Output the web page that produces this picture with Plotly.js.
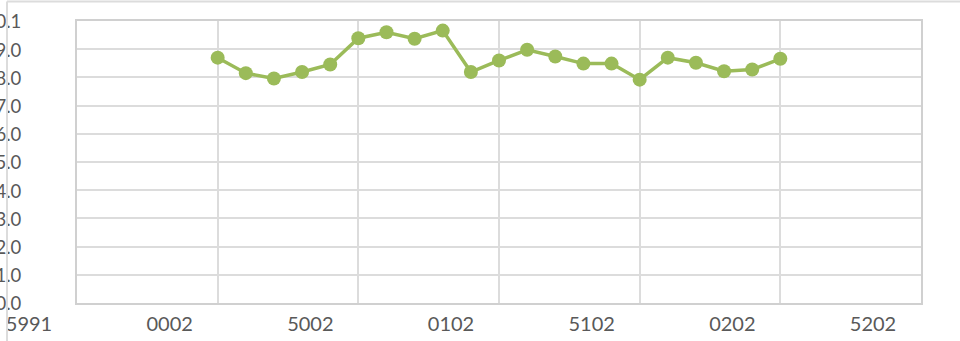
<!DOCTYPE html>
<html>
<head>
<meta charset="utf-8">
<script src="https://cdn.plot.ly/plotly-3.0.1.min.js"></script>
<style>
  html, body { margin: 0; padding: 0; background: #ffffff; overflow: hidden; }
  #chart { width: 960px; height: 341px; }
</style>
</head>
<body>
<div id="chart"></div>
<script>
// Annual index values, 2000-2020
const years = [2000, 2001, 2002, 2003, 2004, 2005, 2006, 2007, 2008, 2009, 2010,
               2011, 2012, 2013, 2014, 2015, 2016, 2017, 2018, 2019, 2020];
const values = [0.870, 0.815, 0.796, 0.819, 0.846, 0.939, 0.960, 0.937, 0.966, 0.819, 0.860,
                0.898, 0.874, 0.849, 0.849, 0.792, 0.870, 0.852, 0.822, 0.828, 0.866];

// Axis ticks and their labels
const xTickVals = [1995, 2000, 2005, 2010, 2015, 2020, 2025];
const xTickText = ['5991', '0002', '5002', '0102', '5102', '0202', '5202'];
const yTickVals = [0, 0.1, 0.2, 0.3, 0.4, 0.5, 0.6, 0.7, 0.8, 0.9, 1.0];
const yTickText = ['0.0', '1.0', '2.0', '3.0', '4.0', '5.0', '6.0', '7.0', '8.0', '9.0', '0.1'];

const W = 960, H = 341;
const M = { l: 77, r: 39, t: 21, b: 38 };
const plotW = W - M.l - M.r, plotH = H - M.t - M.b;
// pixel -> paper coordinates for the outer frame
const px = x => (x - M.l) / plotW;
const py = y => (H - M.b - y) / plotH;

const grid = '#dcdcdc';
const textCol = '#595959';

const trace = {
  x: years,
  y: values,
  type: 'scatter',
  mode: 'lines+markers',
  line: { color: '#9bbb59', width: 3.5 },
  marker: { color: '#9bbb59', size: 14 },
  hoverinfo: 'x+y'
};

const layout = {
  width: W, height: H,
  margin: M,
  paper_bgcolor: '#ffffff',
  plot_bgcolor: '#ffffff',
  showlegend: false,
  font: { family: 'Lato, "Open Sans", sans-serif', color: textCol },
  xaxis: {
    range: [1995, 2025],
    tickmode: 'array',
    tickvals: xTickVals,
    ticktext: xTickText,
    tickfont: { size: 20, color: textCol },
    ticklabelshift: -48,
    ticklabelstandoff: 2,
    ticklabeloverflow: 'allow',
    showgrid: true, gridcolor: grid, gridwidth: 2,
    showline: true, linecolor: '#d0d0d0', linewidth: 2, mirror: true,
    zeroline: false, ticks: '', automargin: false, fixedrange: true
  },
  yaxis: {
    range: [0, 1.0],
    tickmode: 'array',
    tickvals: yTickVals,
    ticktext: yTickText,
    tickfont: { size: 18.5, color: textCol },
    ticklabelstandoff: 50,
    ticklabelshift: 1,
    ticklabeloverflow: 'allow',
    showgrid: true, gridcolor: grid, gridwidth: 2,
    showline: true, linecolor: '#d0d0d0', linewidth: 2, mirror: true,
    zeroline: false, ticks: '', automargin: false, fixedrange: true
  },
  shapes: [
    { type: 'line', xref: 'paper', yref: 'paper', x0: px(7), x1: px(7), y0: py(1.5), y1: py(H + 5),
      line: { color: grid, width: 2 }, layer: 'above' },
    { type: 'line', xref: 'paper', yref: 'paper', x0: px(7), x1: px(W + 5), y0: py(1.5), y1: py(1.5),
      line: { color: grid, width: 2 }, layer: 'below' }
  ]
};

Plotly.newPlot('chart', [trace], layout, { displayModeBar: false, staticPlot: true });
</script>
</body>
</html>
